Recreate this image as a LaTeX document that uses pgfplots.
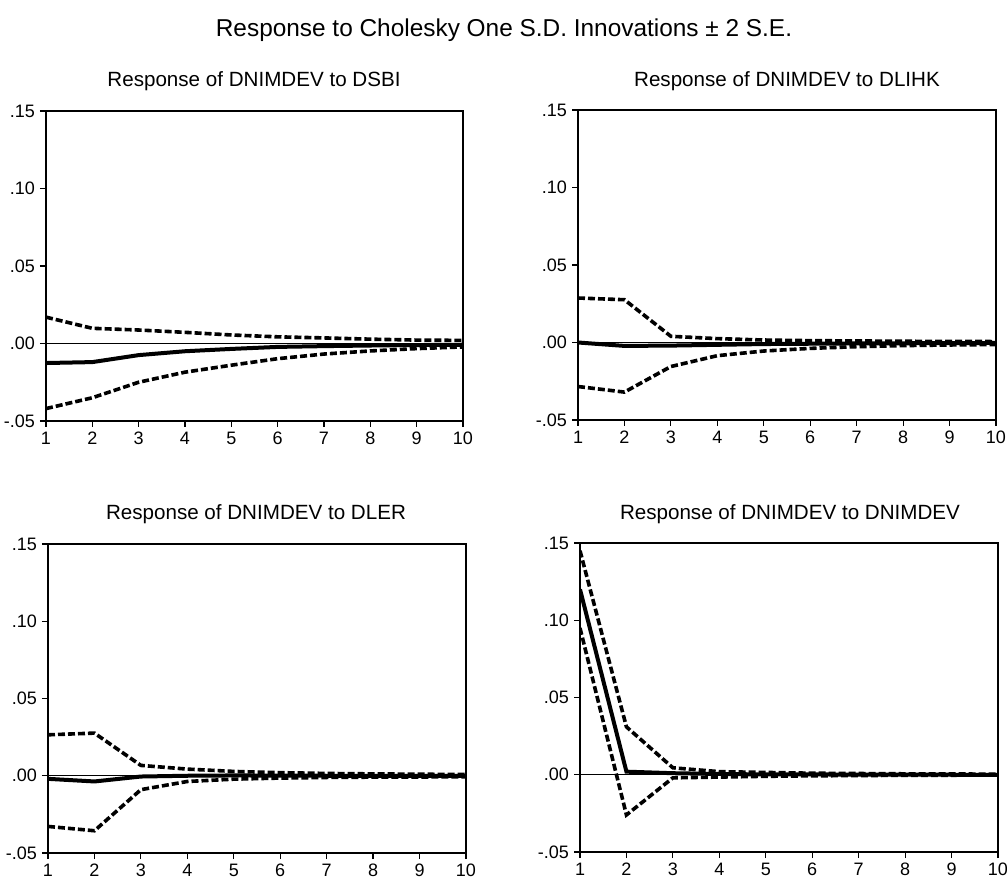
\documentclass[border=0pt]{standalone}
\usepackage{fontspec}
\setmainfont{Liberation Sans}
\usepackage{pgfplots}
\pgfplotsset{compat=1.18}
\pgfplotsset{
  irf/.style={
    scale only axis,
    xmin=1, xmax=10, ymin=-0.05, ymax=0.15,
    xtick={1,2,3,4,5,6,7,8,9,10},
    xticklabels={1,2,3,4,5,6,7,8,9,10},
    ytick={-0.05,0,0.05,0.1,0.15},
    yticklabels={-.05,.00,.05,.10,.15},
    tick align=outside,
    major tick length=3pt,
    tick style={black, line width=0.6pt},
    axis line style={black, line width=1.1pt},
    xtick pos=bottom, ytick pos=left,
    tick label style={font=\fontsize{9}{10}\selectfont},
    yticklabel style={xshift=1pt},
    xticklabel style={yshift=1pt},
    clip=true,
  },
  resp/.style={black, line width=2pt, no marks},
  band/.style={black, line width=1.8pt, dash pattern=on 3.5pt off 1.5pt, no marks},
  zero/.style={black, line width=0.6pt, no marks},
}
\begin{document}
\begin{tikzpicture}[x=0.5pt,y=0.5pt]
\path[use as bounding box] (0,0) rectangle (1007,879);
\node[anchor=base, font=\fontsize{12.2}{14}\selectfont] at (504,842) {Response to Cholesky One S.D. Innovations ± 2 S.E.};
\node[anchor=base, font=\fontsize{10.3}{12}\selectfont] at (254,792) {Response of DNIMDEV to DSBI};
\node[anchor=base, font=\fontsize{10.3}{12}\selectfont] at (787,792) {Response of DNIMDEV to DLIHK};
\node[anchor=base, font=\fontsize{10.3}{12}\selectfont] at (256,359) {Response of DNIMDEV to DLER};
\node[anchor=base, font=\fontsize{10.3}{12}\selectfont] at (790,359) {Response of DNIMDEV to DNIMDEV};

% Panel 1: DSBI
\begin{axis}[irf, at={(23pt,229pt)}, anchor=south west, width=208.5pt, height=155pt]
\addplot[zero] coordinates {(1,0) (10,0)};
\addplot[band] coordinates {(1,0.017) (2,0.0098) (3,0.0087) (4,0.0072) (5,0.0055) (6,0.0043) (7,0.0036) (8,0.0028) (9,0.0022) (10,0.002)};
\addplot[band] coordinates {(1,-0.042) (2,-0.035) (3,-0.025) (4,-0.0185) (5,-0.014) (6,-0.0098) (7,-0.0068) (8,-0.0048) (9,-0.0033) (10,-0.0022)};
\addplot[resp] coordinates {(1,-0.0126) (2,-0.012) (3,-0.0075) (4,-0.005) (5,-0.0035) (6,-0.0022) (7,-0.0017) (8,-0.0013) (9,-0.001) (10,-0.0008)};
\end{axis}

% Panel 2: DLIHK
\begin{axis}[irf, at={(289pt,229.5pt)}, anchor=south west, width=209pt, height=155pt]
\addplot[zero] coordinates {(1,0) (10,0)};
\addplot[band] coordinates {(1,0.0287) (2,0.0276) (3,0.004) (4,0.0025) (5,0.0016) (6,0.0012) (7,0.001) (8,0.0008) (9,0.0007) (10,0.0006)};
\addplot[band] coordinates {(1,-0.0284) (2,-0.032) (3,-0.0155) (4,-0.0085) (5,-0.0055) (6,-0.0038) (7,-0.0027) (8,-0.002) (9,-0.0016) (10,-0.0013)};
\addplot[resp] coordinates {(1,0) (2,-0.0022) (3,-0.002) (4,-0.0015) (5,-0.001) (6,-0.0008) (7,-0.0006) (8,-0.0005) (9,-0.0004) (10,-0.0003)};
\end{axis}

% Panel 3: DLER
\begin{axis}[irf, at={(24pt,13pt)}, anchor=south west, width=209pt, height=154.5pt]
\addplot[zero] coordinates {(1,0) (10,0)};
\addplot[band] coordinates {(1,0.0265) (2,0.0276) (3,0.0067) (4,0.0043) (5,0.0028) (6,0.002) (7,0.0015) (8,0.0012) (9,0.001) (10,0.0008)};
\addplot[band] coordinates {(1,-0.0328) (2,-0.0356) (3,-0.009) (4,-0.0037) (5,-0.0022) (6,-0.0015) (7,-0.0011) (8,-0.0009) (9,-0.0008) (10,-0.0007)};
\addplot[resp] coordinates {(1,-0.002) (2,-0.0037) (3,-0.0005) (4,0) (5,0.0002) (6,0.0001) (7,0) (8,0) (9,0) (10,0)};
\end{axis}

% Panel 4: DNIMDEV
\begin{axis}[irf, at={(290pt,13.5pt)}, anchor=south west, width=209pt, height=154.5pt]
\addplot[zero] coordinates {(1,0) (10,0)};
\addplot[band] coordinates {(1,0.145) (2,0.031) (3,0.0045) (4,0.002) (5,0.0015) (6,0.001) (7,0.0008) (8,0.0006) (9,0.0005) (10,0.0004)};
\addplot[band] coordinates {(1,0.095) (2,-0.026) (3,-0.002) (4,-0.0015) (5,-0.001) (6,-0.0007) (7,-0.0005) (8,-0.0004) (9,-0.0003) (10,-0.0002)};
\addplot[resp] coordinates {(1,0.12) (2,0.002) (3,0.001) (4,0.0005) (5,0.0002) (6,0.0002) (7,0.0001) (8,0.0001) (9,0) (10,0)};
\end{axis}
\end{tikzpicture}
\end{document}
